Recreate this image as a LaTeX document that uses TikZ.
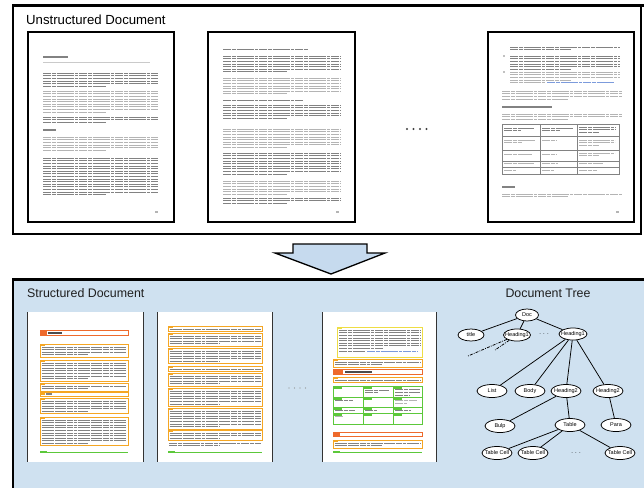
\documentclass[tikz,border=0pt]{standalone}
\usepackage{fontspec}
\setmainfont{Liberation Sans}
\usetikzlibrary{shapes.geometric}

\definecolor{panelblue}{HTML}{CFE1F0}
\definecolor{arrowblue}{HTML}{C6DAEE}
\definecolor{boxorange}{HTML}{F5A623}
\definecolor{barred}{HTML}{EE6A2C}
\definecolor{tabgreen}{HTML}{5CC83A}
\definecolor{boxyellow}{HTML}{EEDD44}
\definecolor{inkdark}{HTML}{828282}
\definecolor{inklight}{HTML}{B4B4B4}
\definecolor{linkblue}{HTML}{7C9BDC}

% zero-width label so the ellipse keeps its fixed size
\newcommand\tlab[1]{\makebox[0pt]{#1}}

% n lines of "text": x, y, width, count, colour (last line shorter)
\newcommand\txtlines[5]{%
  \foreach \k in {1,...,#4}{%
    \pgfmathsetmacro\len{((\k==#4)&&(#4>1)) ? 0.55*(#3) : (#3)}%
    \draw[textline,#5] (#1,#2+\k*2.6-1.3) -- ++(\len,0);
  }}

% orange paragraph box with its tag: x, y, width, lines
\newcommand\obx[4]{%
  \draw[obox] (#1,#2) rectangle ++(#3,#4*2.6+2.6);
  \fill[boxorange] (#1,#2) rectangle ++(5,1.6);
  \txtlines{#1+1.5}{#2+1.8}{#3-3}{#4}{inkdark}
}

% green footer rule of a structured page: x, width
\newcommand\gfoot[2]{%
  \draw[tabgreen, line width=0.7pt] (#1,452) -- ++(#2,0);
  \fill[tabgreen] (#1,450.9) rectangle ++(7,2.3);
}

\tikzset{
  tpage/.style={fill=white, draw=black, line width=1.1pt},
  spage/.style={fill=white},
  pside/.style={draw=black!80, line width=0.9pt},
  textline/.style={line width=0.95pt,
    dash pattern=on 8pt off 0.8pt on 4pt off 0.8pt on 11pt off 0.8pt on 6pt off 0.8pt on 3pt off 0.8pt},
  obox/.style={draw=boxorange, line width=0.6pt},
  rbar/.style={draw=barred, line width=0.6pt},
  ybox/.style={draw=boxyellow, line width=0.7pt},
  gtab/.style={draw=tabgreen, line width=0.7pt},
  tn/.style={ellipse, draw=black, fill=white, line width=0.75pt,
    minimum width=30pt, minimum height=13pt, inner sep=0pt,
    font=\fontsize{5.5}{6}\selectfont},
  tedge/.style={line width=0.75pt},
  tdash/.style={line width=0.75pt, dash pattern=on 3pt off 1.2pt on 0.8pt off 1.2pt},
  gap/.style={inner sep=0pt, font=\fontsize{6}{6}\selectfont},
  ptitle/.style={inner sep=0pt, text=black!88},
}

\begin{document}
\begin{tikzpicture}[x=1pt, y=-1pt]
\useasboundingbox (0,0) rectangle (644,488);
\fill[white] (0,0) rectangle (644,488);

% ---------- unstructured document panel ----------
\draw[line width=1.4pt] (13,5) rectangle (641,234);
\draw[line width=3pt] (12.3,5) -- (644,5);
\node[ptitle, anchor=base west, font=\fontsize{13.2}{14}\selectfont, text=black]
  (utitle) at (26,24) {Unstructured Document};

% page 1
\draw[tpage] (28,32) rectangle (174,222);
\fill[inkdark] (43,55.5) rectangle (68,57.6);
\draw[inklight!70, line width=0.4pt] (43,62) -- (150,62);
\txtlines{43}{72}{115}{6}{inkdark}
\txtlines{43}{90}{115}{9}{inklight}
\txtlines{43}{116}{115}{3}{inkdark}
\fill[inkdark] (43,129.4) rectangle (56,131.3);
\txtlines{43}{136}{115}{6}{inklight}
\txtlines{43}{157}{115}{15}{inkdark}
\fill[inklight] (155,211) rectangle (157.5,213);

% page 2
\draw[tpage] (208,32) rectangle (355,222);
\txtlines{223}{48}{85}{1}{inkdark}
\txtlines{223}{55}{117}{7}{inkdark}
\txtlines{223}{77}{117}{7}{inklight}
\txtlines{223}{99}{80}{1}{inkdark}
\txtlines{223}{104}{117}{6}{inkdark}
\txtlines{223}{128}{117}{8}{inklight}
\txtlines{223}{152}{117}{9}{inkdark}
\txtlines{223}{180}{117}{6}{inklight}
\txtlines{223}{197}{117}{3}{inkdark}
\fill[inklight] (336,211) rectangle (338.5,213);

% gap between pages
\foreach \i in {0,...,3} \fill[black!75] (407+\i*6.5,129) circle (1.1);

% page 3
\draw[tpage] (488,32) rectangle (634,222);
\txtlines{510}{46}{110}{2}{inkdark}
\fill[inkdark] (504,56) circle (0.9);
\txtlines{510}{55}{110}{6}{inkdark}
\fill[inkdark] (504,72) circle (0.9);
\txtlines{510}{71}{110}{4}{inklight}
\draw[textline, inklight] (510,82.9) -- (545,82.9);
\draw[textline, linkblue] (547,82.9) -- (615,82.9);
\txtlines{502}{90}{120}{4}{inklight}
\fill[inkdark] (502,105.5) rectangle (552,108.2);
\txtlines{502}{113}{120}{3}{inklight}
\draw[inkdark, line width=0.7pt] (502,124) rectangle (619,174);
\draw[inkdark, line width=0.7pt] (540,124) -- (540,174);
\draw[inkdark, line width=0.7pt] (577,124) -- (577,174);
\foreach \yy in {136,150,161,167}
  \draw[inkdark, line width=0.5pt] (502,\yy) -- (619,\yy);
\txtlines{504}{127}{30}{2}{inkdark}
\txtlines{542}{127}{32}{2}{inkdark}
\txtlines{579}{126}{37}{3}{inkdark}
\txtlines{504}{139}{32}{2}{inklight}
\txtlines{542}{139}{14}{1}{inklight}
\txtlines{579}{139}{36}{3}{inklight}
\txtlines{504}{153}{28}{1}{inklight}
\txtlines{542}{153}{14}{1}{inklight}
\txtlines{579}{152}{36}{2}{inklight}
\txtlines{504}{162.5}{30}{1}{inklight}
\txtlines{542}{162.5}{16}{1}{inklight}
\txtlines{579}{162.5}{24}{1}{inklight}
\txtlines{504}{168.8}{12}{1}{inklight}
\txtlines{542}{168.8}{12}{1}{inklight}
\txtlines{579}{168.8}{18}{1}{inklight}
\fill[inkdark] (502,185.6) rectangle (515,188);
\txtlines{502}{193}{120}{2}{inklight}
\fill[inklight] (616,211) rectangle (618.5,213);

% ---------- arrow ----------
\draw[fill=arrowblue, line width=1.3pt, line join=miter]
  (293,244) -- (367,244) -- (367,253) -- (385,253) -- (331,274)
  -- (275,253) -- (293,253) -- cycle;

% ---------- structured document panel ----------
\fill[panelblue] (13,279) rectangle (644,488);
\draw[line width=2.4pt] (12.3,279.5) -- (644,279.5);
\draw[line width=1.4pt] (13,279) -- (13,488);
\node[ptitle, anchor=base west, font=\fontsize{12.4}{13}\selectfont]
  (stitle) at (27,297) {Structured Document};
\node[ptitle, anchor=base, font=\fontsize{12.4}{13}\selectfont]
  (ttitle) at (548,297) {Document Tree};

% structured page 1
\fill[spage] (27,312) rectangle (143,462);
\draw[pside] (27,312) -- (27,462);
\draw[pside] (143,312) -- (143,462);
\draw[rbar] (40,330) rectangle (128,335);
\fill[barred] (40,330) rectangle (47,335);
\fill[black!70] (48,331.6) rectangle (62,333.6);
\obx{40}{344}{88}{4}
\obx{40}{360}{88}{7}
\obx{40}{383}{88}{2}
\draw[obox] (40,392.6) rectangle (128,396);
\fill[boxorange] (40,392.6) rectangle (45,395);
\fill[inkdark] (46,393.4) rectangle (52,395);
\obx{40}{398}{88}{5}
\obx{40}{417}{88}{10}
\gfoot{40}{88}

% structured page 2
\fill[spage] (157,312) rectangle (272,462);
\draw[pside] (157,312) -- (157,462);
\draw[pside] (272,312) -- (272,462);
\obx{168}{326}{94}{1}
\obx{168}{333}{94}{4}
\obx{168}{348}{94}{5}
\obx{168}{366}{94}{1}
\obx{168}{373}{94}{4}
\obx{168}{388}{94}{6}
\obx{168}{408}{94}{7}
\obx{168}{430}{94}{3}
\txtlines{169}{442}{92}{2}{inkdark}
\gfoot{168}{94}

% gap between structured pages
\foreach \i in {0,...,3} \fill[black!45] (289+\i*5.5,388) circle (0.7);

% structured page 3
\fill[spage] (322,312) rectangle (436,462);
\draw[pside] (322,312) -- (322,462);
\draw[pside] (436,312) -- (436,462);
\draw[ybox] (337,327) rectangle (422,357);
\fill[boxyellow] (337,327) rectangle (342,328.8);
\txtlines{339}{329}{81}{8}{inkdark}
\draw[textline, inkdark] (339,351.7) -- (365,351.7);
\draw[textline, linkblue] (367,351.7) -- (417,351.7);
\obx{333}{359}{89}{2}
\draw[rbar] (333,369.5) rectangle (422,374.5);
\fill[barred] (333,369.5) rectangle (343,374.5);
\fill[black!70] (345,371) rectangle (372,373);
\obx{333}{377}{89}{1}
\draw[gtab] (333,386) rectangle (422,424);
\draw[gtab] (363,386) -- (363,424);
\draw[gtab] (393,386) -- (393,424);
\foreach \yy in {397,407,413} \draw[gtab] (333,\yy) -- (422,\yy);
\foreach \yy in {386,397,407,413}
  \foreach \xx in {333,363,393}
    \fill[tabgreen] (\xx,\yy) rectangle ++(9,2.6);
\txtlines{365}{389}{24}{2}{inkdark}
\txtlines{395}{388.5}{25}{3}{inkdark}
\txtlines{335}{399.5}{18}{1}{inkdark}
\txtlines{395}{399.5}{22}{2}{inklight}
\txtlines{335}{409}{20}{1}{inkdark}
\txtlines{365}{409}{12}{1}{inkdark}
\txtlines{395}{409}{16}{1}{inkdark}
\txtlines{335}{415.5}{8}{1}{inklight}
\draw[rbar] (333,432) rectangle (422,436);
\fill[barred] (333,432) rectangle (340,436);
\obx{333}{440}{89}{2}
\gfoot{333}{89}

% ---------- document tree ----------
\node[tn, minimum width=23pt, minimum height=12pt] (doc) at (527,315) {\tlab{Doc}};
\node[tn, minimum width=26pt, minimum height=12pt] (title) at (471,335) {\tlab{title}};
\node[tn, minimum width=27pt, minimum height=12pt] (h1a) at (517,335) {\tlab{Heading1}};
\node[gap] (g1)   at (544,334) {. . .};
\node[tn, minimum width=28pt, minimum height=12pt] (h1b) at (573,334) {\tlab{Heading1}};
\node[tn] (list)  at (492,391) {\tlab{List}};
\node[tn] (body)  at (530,391) {\tlab{Body}};
\node[tn] (h2a)   at (566,391) {\tlab{Heading2}};
\node[tn] (h2b)   at (608,391) {\tlab{Heading2}};
\node[tn] (bulp)  at (500,426) {\tlab{Bulp}};
\node[tn] (table) at (570,425) {\tlab{Table}};
\node[tn] (para)  at (616,425) {\tlab{Para}};
\node[tn] (c1)    at (497,453) {\tlab{Table Cell}};
\node[tn] (c2)    at (533,453) {\tlab{Table Cell}};
\node[gap] (g2)   at (576,453) {. . .};
\node[tn] (c3)    at (620,453) {\tlab{Table Cell}};

\coordinate (d1) at (468,356);
\coordinate (d2) at (495,350);

\draw[tedge] (doc) -- (title);
\draw[tedge] (doc) -- (h1a);
\draw[tedge] (doc) -- (h1b);
\draw[tdash] (h1a) -- (d1);
\draw[tdash] (h1a) -- (d2);
\draw[tedge] (h1b) -- (list);
\draw[tedge] (h1b) -- (body);
\draw[tedge] (h1b) -- (h2a);
\draw[tedge] (h1b) -- (h2b);
\draw[tedge] (h2a) -- (bulp);
\draw[tedge] (h2a) -- (table);
\draw[tedge] (h2b) -- (para);
\draw[tedge] (table) -- (c1);
\draw[tedge] (table) -- (c2);
\draw[tedge] (table) -- (c3);
\end{tikzpicture}
\end{document}
